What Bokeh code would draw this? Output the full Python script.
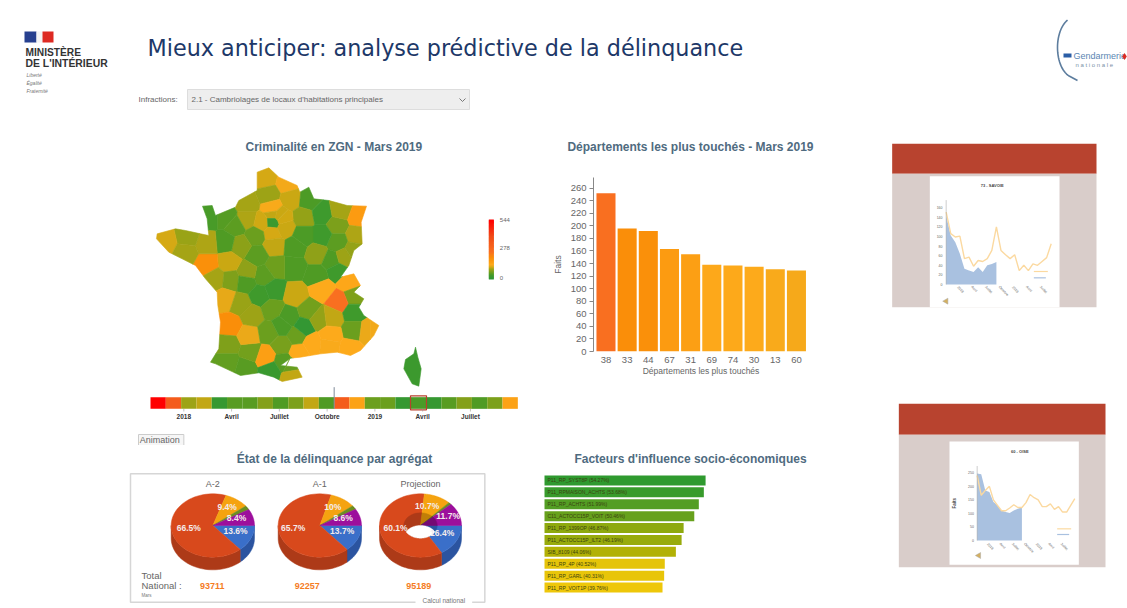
import numpy as np
from bokeh.plotting import figure
from bokeh.layouts import column, row
from bokeh.models import Range1d, LinearColorMapper, FixedTicker, ColumnDataSource
from bokeh.core.properties import value
from bokeh.embed import file_html
from bokeh.resources import INLINE

# ---------- data ----------
BAR_DEPTS = ["38", "33", "44", "67", "31", "69", "74", "30", "13", "60"]
BAR_FAITS = [252, 196, 192, 163, 155, 138, 137, 135, 131, 129]

FACTOR_NAMES = ["P11_RP_SYST8P (54.27%)", "P11_RPMAISON_ACHTS (53.68%)", "P11_RP_ACHTS (51.99%)",
                "C11_ACTOCC15P_VOIT (50.46%)", "P11_RP_1399OP (46.87%)", "P11_ACTOCC15P_ILT2 (46.19%)",
                "SIB_8109 (44.06%)", "P11_RP_4P (40.52%)", "P11_RP_GARL (40.31%)", "P11_RP_VOIT1P (39.76%)"]
FACTOR_VALUES = [54.27, 53.68, 51.99, 50.46, 46.87, 46.19, 44.26, 40.52, 40.31, 39.76]

PIE_TITLES = ["A-2", "A-1", "Projection"]
PIE_TOTALS = ["93711", "92257", "95189"]
PIE_A2 = [13.6, 66.5, 9.4, 2.1, 8.4]
PIE_A1 = [13.7, 65.7, 10.0, 2.0, 8.6]
PIE_PR = [16.4, 60.1, 10.7, 1.1, 11.7]

TIMELINE_VALUES = [544, 330, 90, 105, 15, 50, 50, 75, 45, 70, 105, 45,
                   330, 150, 60, 60, 15, 40, 15, 50, 75, 45, 70, 150]
TIMELINE_TICKS = ["2018", "Avril", "Juillet", "Octobre", "2019", "Avril", "Juillet"]

SAVOIE_PREV = [151, 106, 99, 101, 54, 57, 38, 50, 48, 54, 71, 120,
               71, 62, 54, 62, 29, 40, 29, 43, 40, 48, 56, 85]
SAVOIE_REAL = [144, 102, 88, 64, 33, 29, 26, 36, 26, 40, 43, 47]
OISE_PREV = [240, 167, 185, 200, 150, 130, 110, 110, 120, 132, 122, 122, 140,
             170, 158, 150, 125, 125, 135, 115, 125, 105, 105, 130, 155]
OISE_REAL = [247, 245, 185, 179, 142, 130, 111, 105, 102, 111, 117, 123]

# department: code, x, y (position in picture), faits
DEPTS = [
 ("62",375,130,112),("59",440,145,126),("80",385,178,90),("02",452,190,108),("60",395,218,130),
 ("76",320,205,95),("27",320,252,98),("14",255,245,48),("50",205,245,38),("61",285,272,52),
 ("95",398,238,105),("78",365,262,110),("75",398,260,20),("91",395,292,112),("77",432,275,108),
 ("28",345,300,60),("45",400,330,105),("08",505,195,42),("51",490,245,85),("55",545,235,28),
 ("54",590,270,70),("57",600,225,95),("67",655,245,163),("68",648,300,98),("88",590,320,52),
 ("52",545,300,30),("10",490,300,42),("89",465,335,45),("21",530,355,82),("70",575,375,45),
 ("25",610,365,90),("39",590,405,30),("71",530,420,45),("58",460,395,45),("18",405,395,62),
 ("41",350,360,52),("36",370,420,52),("37",320,410,82),("72",300,330,80),("53",255,320,45),
 ("49",265,380,108),("44",200,385,192),("35",200,325,98),("22",140,305,88),("29",75,320,112),
 ("56",135,350,95),("85",225,430,95),("79",272,435,72),("86",315,440,45),("17",255,490,120),
 ("16",300,505,88),("87",360,480,30),("23",400,465,25),("03",465,480,108),("63",445,545,42),
 ("42",505,525,65),("69",545,460,135),("01",625,440,140),("74",640,482,72),("38",595,500,252),
 ("33",270,570,196),("40",265,630,72),("64",265,680,55),("65",315,695,50),("32",330,650,65),
 ("47",325,600,122),("24",335,540,90),("19",395,520,60),("46",385,590,60),("12",425,630,68),
 ("31",375,665,155),("81",430,680,50),("09",390,705,20),("11",450,690,58),("66",455,722,105),
 ("34",475,650,135),("48",470,600,60),("15",425,570,42),("43",490,575,8),("07",535,550,85),
 ("26",575,545,105),("73",640,530,30),("05",640,585,60),("04",680,590,122),("06",700,590,125),
 ("84",570,600,135),("30",515,625,135),("13",565,630,131),("83",630,640,135),("90",640,345,85),
 ("94",425,250,110),("93",415,240,108),
]
OUTLINE = [(385,97),(415,125),(470,150),(478,170),(505,155),(520,190),(565,195),(620,210),(678,212),
           (662,260),(665,325),(640,345),(625,390),(600,425),(640,415),(660,450),(640,470),(670,490),
           (655,515),(670,540),(715,570),(700,600),(660,645),(630,660),(590,650),(540,655),(480,665),
           (450,668),(420,690),(470,695),(485,725),(425,738),(400,725),(355,712),(300,720),(225,685),
           (210,680),(235,640),(240,560),(232,510),(230,470),(195,430),(165,390),(125,370),(85,350),
           (48,310),(50,295),(105,280),(135,285),(180,295),(205,300),(200,250),(186,212),(215,210),
           (225,240),(285,215),(295,195),(350,165),(350,110)]
CORSICA = [(825,635),(832,665),(842,700),(835,752),(815,745),(790,700),(795,672),(820,655)]
CORSICA_VALUE = 25

STOPS = [(0,"#2e9636"),(30,"#3f9a2c"),(45,"#4f9b24"),(60,"#6b9f1e"),(80,"#8ca118"),(95,"#a5a415"),
         (110,"#d0a913"),(125,"#f2a91a"),(135,"#fdaa1b"),(165,"#fc9a10"),(200,"#fa8d08"),
         (250,"#f97020"),(400,"#f04a18"),(544,"#ff0000")]

# ---------- helpers ----------
FONT = "Liberation Sans"
TITLE_COL = "#4f6b7f"
def hex2(c): return [int(c[i:i+2], 16) for i in (1, 3, 5)]
def ramp(stops, n):
    xs = [s[0] for s in stops]; cs = np.array([hex2(s[1]) for s in stops])
    t = np.linspace(xs[0], xs[-1], n)
    return ["#%02x%02x%02x" % tuple(int(round(np.interp(v, xs, cs[:, k]))) for k in range(3)) for v in t]

PALETTE = ramp(STOPS, 545)
mapper = LinearColorMapper(palette=PALETTE, low=0, high=544)

def base(w, h, xr, yr, **kw):
    p = figure(width=w, height=h, x_range=xr, y_range=yr, toolbar_location=None,
               output_backend="svg", min_border=0, outline_line_color=None,
               border_fill_color="white", background_fill_color="white", **kw)
    p.grid.visible = False
    return p

def plain(w, h, xr, yr):
    p = base(w, h, Range1d(*xr), Range1d(*yr))
    p.axis.visible = False
    return p

def txt(p, x, y, s, size, color="#555555", align="left", style="normal", font=FONT, angle=0, **kw):
    p.text(x=[x], y=[y], text=[s], text_font=value(font), text_font_size=f"{size}px", text_color=color,
           text_align=align, text_baseline="middle", text_font_style=style, angle=angle, **kw)

def clip_half(poly, a, b):
    m = (np.array(a) + np.array(b)) / 2.0
    n = np.array(b, float) - np.array(a, float)
    out = []
    for i in range(len(poly)):
        P, Q = np.array(poly[i], float), np.array(poly[(i + 1) % len(poly)], float)
        dp, dq = np.dot(P - m, n), np.dot(Q - m, n)
        if dp <= 0: out.append(tuple(P))
        if dp * dq < 0:
            t = dp / (dp - dq)
            out.append(tuple(P + t * (Q - P)))
    return out

def title_strip(h, top, y, s):
    p = plain(350, h, (530, 880), (top + h, top))
    txt(p, 690, y, s, 12, TITLE_COL, "center", "bold")
    return p

# ---------- header ----------
hd = plain(1127, 136, (0, 1127), (136, 0))
hd.quad(left=[24], right=[36], top=[31], bottom=[42], fill_color="#27408f", line_color=None)
hd.quad(left=[36], right=[42], top=[31], bottom=[42], fill_color="#f4f4f4", line_color=None)
hd.quad(left=[42], right=[53], top=[31], bottom=[42], fill_color="#dd2a22", line_color=None)
txt(hd, 25, 52, "MINISTÈRE", 10.2, "#333333", style="bold")
txt(hd, 25, 63, "DE L'INTÉRIEUR", 10.4, "#333333", style="bold")
for yy, s in zip((74, 82, 90), ("Liberté", "Égalité", "Fraternité")):
    txt(hd, 26, yy, s, 5, "#777777", style="italic")
txt(hd, 147, 47, "Mieux anticiper: analyse prédictive de la délinquance", 22.3, "#1d3868", font="DejaVu Sans")
txt(hd, 138, 99, "Infractions:", 8, "#666666")
hd.quad(left=[187], right=[469], top=[89], bottom=[109], fill_color="#eeeeee", line_color="#dddddd")
txt(hd, 191, 99, "2.1 - Cambriolages de locaux d'habitations principales", 8, "#666666")
hd.line(x=[459, 462, 465], y=[98, 101, 98], line_color="#777777", line_width=1)
tt = np.linspace(-1.15, 1.25, 30)
hd.line(x=np.r_[1074 - 17 * np.cos(tt), 1077], y=np.r_[47 + 30 * np.sin(tt), 80], line_color="#5d7d9e", line_width=1.6)
hd.quad(left=[1063], right=[1071], top=[53], bottom=[57], fill_color="#2b5ea6", line_color=None)
txt(hd, 1073, 55, "Gendarmerie", 9, "#5a86b3")
txt(hd, 1075, 64, "n a t i o n a l e", 6, "#7a90a6")
hd.scatter(x=[1124], y=[56], marker="diamond", size=7, fill_color="#dd2a22", line_color=None)

# ---------- map ----------
mp = plain(530, 309, (-420, 1170), (930, 3))
seeds = [(d[1], d[2]) for d in DEPTS]
xs, ys, vals = [], [], []
for i, d in enumerate(DEPTS):
    poly = list(OUTLINE)
    for j, s in enumerate(seeds):
        if i != j and poly:
            poly = clip_half(poly, seeds[i], s)
    if poly:
        xs.append([q[0] for q in poly]); ys.append([q[1] for q in poly]); vals.append(d[3])
xs.append([q[0] for q in CORSICA]); ys.append([q[1] for q in CORSICA]); vals.append(CORSICA_VALUE)
src = ColumnDataSource(dict(xs=xs, ys=ys, v=vals))
col = {"field": "v", "transform": mapper}
mp.patches("xs", "ys", source=src, fill_color=col, line_color=col, line_width=0.6)
txt(mp, 580, 35, "Criminalité en ZGN - Mars 2019", 12, TITLE_COL, "center", "bold")

# scale legend
legend_levels = np.arange(0, 545, 8)
ly = 430 - legend_levels / 544 * 175
mp.quad(left=1045, right=1060, top=ly - 3, bottom=ly + 2, fill_color=[PALETTE[int(v)] for v in legend_levels], line_color=None)
for s, yy in (("544", 254), ("278", 338), ("0", 427)):
    txt(mp, 1078, yy, s, 6, "#666666")

# timeline
n = len(TIMELINE_VALUES)
edges = np.linspace(30, 1132, n + 1)
tl = ColumnDataSource(dict(l=edges[:-1], r=edges[1:], v=TIMELINE_VALUES))
mp.quad(left="l", right="r", top=785, bottom=820, source=tl, fill_color={"field": "v", "transform": mapper},
        line_color=None)
mp.quad(left=[810], right=[858], top=[781], bottom=[823], fill_color=None, line_color="#b8402c", line_width=1.2)
mp.line(x=[581, 581], y=[755, 820], line_color="#7f8a99", line_width=1)
for i, s in enumerate(TIMELINE_TICKS):
    xt = 130 + i * 143.3
    mp.line(x=[xt, xt], y=[820, 828], line_color="#999999", line_width=0.6)
    txt(mp, xt, 844, s, 6.5, "#333333", "center", "bold")
mp.quad(left=[-6], right=[130], top=[897], bottom=[930], fill_color="#f6f6f6", line_color="#cccccc", line_width=1)
txt(mp, -2, 913, "Animation", 9, "#666666")

# ---------- pies ----------
pp = plain(530, 163, (-375, 1215), (489, 0))
PIE_TOP = ["#3a6fc9", "#d8491c", "#f5a310", "#6b8e23", "#9c0f9c"]
PIE_SIDE = ["#2b54a0", "#ad3a18", "#c07f08", "#50691a", "#740a74"]

def pie(cx, cy, rx, ry, depth, v, hole=None):
    ang = np.concatenate([[0], np.cumsum(v)]) / np.sum(v) * 360
    for k in range(len(v)):
        a, b = ang[k], min(ang[k + 1], 180)
        if a < 180:
            t = np.radians(np.linspace(a, b, 40))
            X = cx + rx * np.cos(t); Y = cy + ry * np.sin(t)
            pp.patch(np.r_[X, X[::-1]], np.r_[Y, Y[::-1] + depth], fill_color=PIE_SIDE[k], line_color=PIE_SIDE[k], line_width=0.5)
    for k in range(len(v)):
        t = np.radians(np.linspace(ang[k], ang[k + 1], 60))
        pp.patch(np.r_[cx, cx + rx * np.cos(t)], np.r_[cy, cy + ry * np.sin(t)], fill_color=PIE_TOP[k], line_color=PIE_TOP[k], line_width=0.5)
    if hole:
        hx, hy = hole
        for k in range(len(v)):
            t = np.radians(np.linspace(ang[k], ang[k + 1], 40))
            pp.patch(np.r_[cx, cx + hx * np.cos(t)], np.r_[cy, cy + hy * np.sin(t)], fill_color=PIE_SIDE[k], line_color=PIE_SIDE[k], line_width=0.5)
        lim = np.sqrt(1 - (depth / (2 * hy)) ** 2)
        tx = np.linspace(-hx * lim, hx * lim, 60)
        lower = cy + hy * np.sqrt(1 - (tx / hx) ** 2)
        upper = cy + depth - hy * np.sqrt(1 - (tx / hx) ** 2)
        pp.patch(np.r_[cx + tx, cx + tx[::-1]], np.r_[upper, lower[::-1]], fill_color="white", line_color="white", line_width=0.5)

txt(pp, 627, 40, "État de la délinquance par agrégat", 12, TITLE_COL, "center", "bold")
pp.line(x=[870, 15, 15, 1078, 1078, 1040], y=[470, 470, 85, 85, 470, 470], line_color="#d6d6d6", line_width=1.5)
txt(pp, 955, 464, "Calcul national", 6.5, "#777777", "center")
pie(262, 240, 125, 95, 38, PIE_A2)
pie(583, 240, 125, 95, 38, PIE_A1)
pie(885, 240, 123, 95, 38, PIE_PR, hole=(50, 38))
for cx, s in zip((262, 583, 885), PIE_TITLES):
    txt(pp, cx, 115, s, 9, "#666666", "center")
def pct(x, y, v):
    txt(pp, x, y, (f"{v:g}%"), 8.5, "#f4ecec", "center", "bold")
for x, y, v in ((190, 247, PIE_A2[1]), (330, 257, PIE_A2[0]), (305, 185, PIE_A2[2]), (333, 217, PIE_A2[4]),
                (503, 247, PIE_A1[1]), (650, 257, PIE_A1[0]), (622, 185, PIE_A1[2]), (653, 217, PIE_A1[4]),
                (810, 247, PIE_PR[1]), (950, 262, PIE_PR[0]), (905, 180, PIE_PR[2]), (968, 212, PIE_PR[4])):
    pct(x, y, v)
txt(pp, 48, 390, "Total", 9.5, "#666666")
txt(pp, 48, 420, "National :", 9.5, "#666666")
txt(pp, 48, 450, "Mars", 4.5, "#777777")
for cx, s in zip((260, 545, 880), PIE_TOTALS):
    txt(pp, cx, 420, s, 9, "#f57c1f", "center", "bold")

# ---------- bars ----------
t1 = title_strip(34, 136, 146, "Départements les plus touchés - Mars 2019")
br = base(350, 275, Range1d(-0.59, 9.57), Range1d(0, 277), x_axis_label="Départements les plus touchés", y_axis_label="Faits")
br.min_border_left, br.min_border_right, br.min_border_top, br.min_border_bottom = 63, 72, 7, 94
bsrc = ColumnDataSource(dict(x=list(range(len(BAR_DEPTS))), v=BAR_FAITS))
br.vbar(x="x", top="v", width=0.9, bottom=0, source=bsrc, fill_color={"field": "v", "transform": mapper}, line_color=None)
br.xaxis.ticker = FixedTicker(ticks=list(range(len(BAR_DEPTS))))
br.xaxis.major_label_overrides = {i: s for i, s in enumerate(BAR_DEPTS)}
br.yaxis.ticker = FixedTicker(ticks=list(range(0, 261, 20)))
br.xaxis.axis_line_color = None
br.xaxis.major_tick_line_color = None
br.xaxis.major_tick_out = 0
br.xaxis.major_tick_in = 0
br.xaxis.minor_tick_line_color = None
br.yaxis.minor_tick_line_color = None
br.yaxis.major_tick_in = 0
br.yaxis.major_tick_out = 4
br.yaxis.axis_line_color = "#888888"
br.yaxis.major_tick_line_color = "#888888"
for a in (br.xaxis, br.yaxis):
    a.major_label_text_font = FONT
    a.major_label_text_font_size = "9.5px"
    a.major_label_text_color = "#666666"
    a.axis_label_text_font = FONT
    a.axis_label_text_font_style = "normal"
    a.axis_label_text_font_size = "8.5px"
    a.axis_label_text_color = "#666666"
br.xaxis.major_label_standoff = 5
br.xaxis.axis_label_standoff = 0
br.yaxis.major_label_standoff = 3
br.yaxis.axis_label_standoff = 5

# ---------- factors ----------
t2 = title_strip(25, 445, 458, "Facteurs d'influence socio-économiques")
FACT_STOPS = [(39.76, "#eec70a"), (44, "#b5b204"), (47, "#8ca80f"), (51, "#62a01e"), (54.27, "#2f9a2f")]
fpal = ramp(FACT_STOPS, 128)
fmap = LinearColorMapper(palette=fpal, low=39.76, high=54.27)
fx = base(350, 138, Range1d(-4.72, 113.2), Range1d(9.5, -0.5))
fx.axis.visible = False
fx.min_border_top = 4
fx.min_border_bottom = 15
fsrc = ColumnDataSource(dict(y=list(range(len(FACTOR_NAMES))), v=FACTOR_VALUES, n=FACTOR_NAMES, x0=[1.0] * len(FACTOR_NAMES)))
fx.hbar(y="y", right="v", left=0, height=0.84, source=fsrc, fill_color={"field": "v", "transform": fmap}, line_color=None)
fx.text(x="x0", y="y", text="n", source=fsrc, text_font=value(FONT), text_font_size="5px", text_color="#3b4310",
        text_baseline="middle")

# ---------- thumbnails ----------
th = plain(247, 472, (880, 1127), (608, 136))

def fit(v0, p0, v1, p1, ps, pe):
    s = (v1 - v0) / (p1 - p0)
    return Range1d(start=v0 + (ps - p0) * s, end=v0 + (pe - p0) * s)

th.extra_x_ranges = {"m1": fit(0, 945.67, 23, 945.67 + 23 * 4.567, 880, 1127),
                     "m2": fit(0, 976.67, 24, 1074.3, 880, 1127)}
th.extra_y_ranges = {"v1": fit(0, 284, 160, 207.3, 608, 136),
                     "v2": fit(0, 540, 250, 472.3, 608, 136)}

def thumb(ox, oy, band, box, panel, title, tx, prev, real, xn, yn, yticks, ylab, tri, leg, ticks_x):
    Z = lambda x, y: (ox + x / 3, oy + y / 3)
    (bx0, by0), (bx1, by1) = Z(band[0], band[1]), Z(band[2], band[3])
    th.quad(left=[bx0], right=[bx1], top=[by0], bottom=[by1], fill_color="#b8432f", line_color=None)
    (bx0, by0), (bx1, by1) = Z(box[0], box[1]), Z(box[2], box[3])
    th.quad(left=[bx0], right=[bx1], top=[by0], bottom=[by1], fill_color="#d9cdca", line_color=None)
    (bx0, by0), (bx1, by1) = Z(panel[0], panel[1]), Z(panel[2], panel[3])
    th.quad(left=[bx0], right=[bx1], top=[by0], bottom=[by1], fill_color="white", line_color=None)
    px, py = Z(*tx)
    txt(th, px, py, title, 4, "#444444", "center", "bold")
    kw = dict(x_range_name=xn, y_range_name=yn)
    th.varea(x=list(range(len(real))), y1=[0] * len(real), y2=real, fill_color="#a9c1e0", **kw)
    th.line(x=list(range(len(prev))), y=prev, line_color="#fbd9a0", line_width=1.4, **kw)
    th.line(x=[0, 0], y=[0, yticks[-1] * 1.1], line_color="#999999", line_width=0.5, **kw)
    for t in yticks:
        th.text(x=[-0.8], y=[t], text=[str(t)], text_font=value(FONT), text_font_size="3.5px", text_color="#666666",
                text_align="right", text_baseline="middle", **kw)
    for t, s in zip(ticks_x, TIMELINE_TICKS):
        th.text(x=[t - 0.4], y=[yticks[1] * -0.2], text=[s], text_font=value(FONT), text_font_size="3.5px", text_color="#666666",
                text_align="left", text_baseline="middle", angle=-0.8, **kw)
    if ylab:
        lx, ly_ = Z(*ylab)
        txt(th, lx, ly_, "Faits", 4.5, "#555555", "center", "bold", angle=np.pi / 2)
    tx_, ty_ = Z(*tri)
    th.scatter(x=[tx_], y=[ty_], marker="triangle", size=6, angle=np.pi / 2, fill_color="#d4b060", line_color="#a8a8a8", line_width=0.5)
    lx0, ly0 = Z(*leg[0]); lx1, ly1 = Z(*leg[1])
    th.line(x=[lx0, lx0 + 14], y=[ly0, ly0], line_color="#fbd9a0", line_width=1.2)
    th.line(x=[lx1, lx1 + 12], y=[ly1, ly1], line_color="#a9c1e0", line_width=1.2)

thumb(880, 135, (35, 25, 648, 115), (35, 115, 648, 515), (148, 122, 537, 515), "73 - SAVOIE", (335, 150),
      SAVOIE_PREV, SAVOIE_REAL, "m1", "v1", [0, 20, 40, 60, 80, 100, 120, 140, 160], None, (197, 497),
      ((460, 408), (460, 427)), [3, 6, 9, 12, 15, 18, 21])
thumb(885, 395, (40, 25, 660, 118), (40, 118, 660, 515), (192, 138, 580, 508), "60 - OISE", (403, 168),
      OISE_PREV, OISE_REAL, "m2", "v2", [0, 50, 100, 150, 200, 250], (208, 323), (280, 480),
      ((515, 400), (515, 417)), [3, 6, 9, 12, 15, 18, 21])

layout = column(hd, row(column(mp, pp), column(row(t1), row(br), row(t2), row(fx)), th))
open("out.html", "w").write(file_html(layout, INLINE))
